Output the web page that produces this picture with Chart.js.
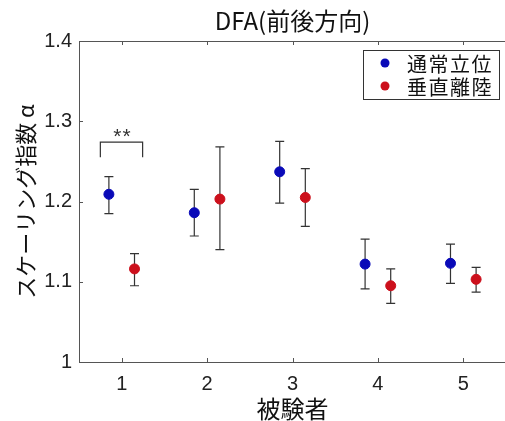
<!DOCTYPE html>
<html>
<head>
<meta charset="utf-8">
<script src="https://cdn.jsdelivr.net/npm/chart.js@4"></script>
<style>
  html, body { margin: 0; padding: 0; background: #fff; overflow: hidden; }
  #wrap { width: 512px; height: 421px; }
</style>
</head>
<body>
<div id="wrap"><canvas id="chart" width="512" height="421"></canvas></div>
<script>
var subjects = ['1', '2', '3', '4', '5'];
var xTicks = [1, 2, 3, 4, 5];
var yTicks = [1, 1.1, 1.2, 1.3, 1.4];
var seriesNames = ['通常立位', '垂直離陸'];

// 通常立位
var normalMean = [1.209, 1.186, 1.237, 1.122, 1.123];
var normalLow  = [1.185, 1.157, 1.198, 1.091, 1.098];
var normalHigh = [1.231, 1.215, 1.275, 1.153, 1.147];
// 垂直離陸
var verticalMean = [1.116, 1.203, 1.205, 1.095, 1.103];
var verticalLow  = [1.095, 1.140, 1.169, 1.073, 1.087];
var verticalHigh = [1.135, 1.268, 1.241, 1.116, 1.118];

// 有意差 (被験者1): 左x, 右x, 脚の下端, 上端
var sigBracket = [0.75, 1.245, 1.255, 1.274];
var sigLabel = '**';

var colors = ['#0a0ab8', '#cc101c'];
var shift = 0.15;
var jp = '"Noto Sans CJK JP", sans-serif';
var num = '"Liberation Sans", Arial, sans-serif';
var axisColor = '#555555';

function points(mean, dx) {
    return mean.map(function(v, i) { return { x: xTicks[i] + dx, y: v }; });
}

var errorBars = {
    id: 'errorBars',
    beforeDatasetsDraw: function(chart) {
        var ctx = chart.ctx, xs = chart.scales.x, ys = chart.scales.y;
        var sets = [[normalLow, normalHigh, -shift], [verticalLow, verticalHigh, shift]];
        ctx.save();
        ctx.strokeStyle = '#333333';
        ctx.lineWidth = 1.2;
        sets.forEach(function(s) {
            xTicks.forEach(function(t, i) {
                var px = xs.getPixelForValue(t + s[2]);
                var lo = ys.getPixelForValue(s[0][i]);
                var hi = ys.getPixelForValue(s[1][i]);
                ctx.beginPath();
                ctx.moveTo(px, lo); ctx.lineTo(px, hi);
                ctx.moveTo(px - 4.5, lo); ctx.lineTo(px + 4.5, lo);
                ctx.moveTo(px - 4.5, hi); ctx.lineTo(px + 4.5, hi);
                ctx.stroke();
            });
        });
        // 有意差の括弧
        var x1 = xs.getPixelForValue(sigBracket[0]);
        var x2 = xs.getPixelForValue(sigBracket[1]);
        var yl = ys.getPixelForValue(sigBracket[2]);
        var yt = ys.getPixelForValue(sigBracket[3]);
        ctx.beginPath();
        ctx.moveTo(x1, yl); ctx.lineTo(x1, yt); ctx.lineTo(x2, yt); ctx.lineTo(x2, yl);
        ctx.stroke();
        ctx.fillStyle = '#333333';
        ctx.font = '21px ' + num;
        ctx.letterSpacing = '1px';
        ctx.textAlign = 'center';
        ctx.textBaseline = 'alphabetic';
        ctx.fillText(sigLabel, (x1 + x2) / 2 + 1, yt + 1);
        ctx.restore();
    },
    afterDraw: function(chart) {
        var ctx = chart.ctx, a = chart.chartArea, xs = chart.scales.x, ys = chart.scales.y;
        ctx.save();
        ctx.strokeStyle = axisColor;
        ctx.lineWidth = 1;
        ctx.beginPath();
        // box top
        ctx.moveTo(a.left, a.top + 0.5); ctx.lineTo(a.right, a.top + 0.5);
        ctx.moveTo(a.right - 0.5, a.top); ctx.lineTo(a.right - 0.5, a.bottom);
        // inner ticks
        xTicks.forEach(function(t) {
            var px = Math.round(xs.getPixelForValue(t)) + 0.5;
            ctx.moveTo(px, a.bottom); ctx.lineTo(px, a.bottom - 4);
            ctx.moveTo(px, a.top); ctx.lineTo(px, a.top + 4);
        });
        yTicks.forEach(function(t) {
            var py = Math.round(ys.getPixelForValue(t)) + 0.5;
            ctx.moveTo(a.left, py); ctx.lineTo(a.left + 4, py);
        });
        ctx.stroke();

        // legend
        var lx = 363, ly = 50, lw = 136, lh = 49;
        ctx.fillStyle = '#ffffff';
        ctx.fillRect(lx, ly, lw, lh);
        ctx.strokeStyle = '#333333';
        ctx.strokeRect(lx + 0.5, ly + 0.5, lw, lh);
        ctx.font = '20px ' + jp;
        ctx.textAlign = 'left';
        ctx.textBaseline = 'middle';
        ctx.letterSpacing = '1.5px';
        chart.data.datasets.forEach(function(ds, i) {
            var cy = ly + 13 + i * 23;
            ctx.fillStyle = ds.backgroundColor;
            ctx.beginPath();
            ctx.arc(lx + 22, cy, 4.5, 0, Math.PI * 2);
            ctx.fill();
            ctx.fillStyle = '#111111';
            ctx.fillText(ds.label, lx + 44, cy + 1);
        });
        ctx.restore();
    }
};

var chart = new Chart(document.getElementById('chart'), {
    type: 'scatter',
    data: {
        datasets: [{
            label: seriesNames[0],
            data: points(normalMean, -shift),
            backgroundColor: colors[0],
            borderColor: colors[0],
            pointRadius: 5,
        }, {
            label: seriesNames[1],
            data: points(verticalMean, shift),
            backgroundColor: colors[1],
            borderColor: colors[1],
            pointRadius: 5,
        }]
    },
    options: {
        responsive: false,
        animation: false,
        layout: { padding: { left: 0, right: 3, top: 0, bottom: 0 } },
        plugins: {
            legend: { display: false },
            tooltip: { enabled: false },
            title: {
                display: true,
                text: 'DFA(前後方向)',
                fullSize: false,
                color: '#111111',
                font: { family: jp, size: 24, weight: 'normal', lineHeight: 1.2 },
                padding: { top: 6, bottom: 6.2 }
            }
        },
        scales: {
            x: {
                type: 'linear',
                min: 0.5,
                max: 5.5,
                afterBuildTicks: function(s) { s.ticks = xTicks.map(function(v) { return { value: v }; }); },
                afterFit: function(s) { s.height = 59; },
                grid: { display: false, drawTicks: false },
                border: { display: true, color: axisColor },
                ticks: {
                    color: '#222222',
                    padding: 10,
                    maxRotation: 0,
                    font: { family: num, size: 20 },
                    callback: function(v, i) { return subjects[i]; }
                },
                title: {
                    display: true,
                    text: '被験者',
                    color: '#111111',
                    font: { family: jp, size: 24, lineHeight: 1 },
                    padding: { top: 0, bottom: 0 }
                }
            },
            y: {
                min: 1,
                max: 1.4,
                afterBuildTicks: function(s) { s.ticks = yTicks.map(function(v) { return { value: v }; }); },
                afterFit: function(s) { s.width = 79; },
                grid: { display: false, drawTicks: false },
                border: { display: true, color: axisColor },
                ticks: {
                    color: '#222222',
                    padding: 7,
                    font: { family: num, size: 20 },
                    callback: function(v) { return String(v); }
                },
                title: {
                    display: true,
                    text: 'スケーリング指数 α',
                    color: '#111111',
                    font: { family: jp, size: 22, lineHeight: 1.2 },
                    padding: { top: 12, bottom: 0 }
                }
            }
        }
    },
    plugins: [errorBars]
});
</script>
</body>
</html>
